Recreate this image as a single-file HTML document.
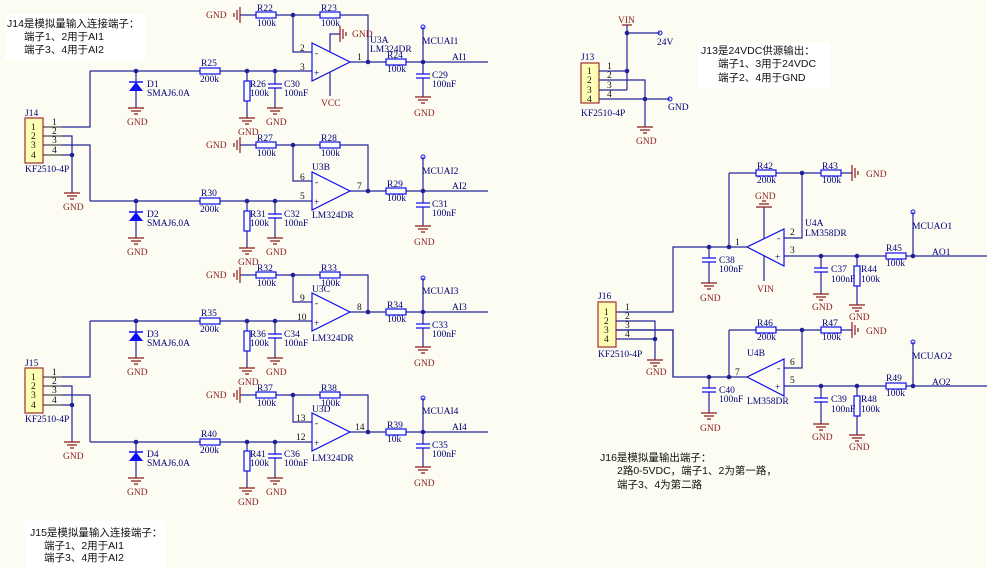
<!DOCTYPE html>
<html><head><meta charset="utf-8"><style>
html,body{margin:0;padding:0;background:#fcfcf2;}
svg{display:block;}
.w{stroke:#25259a;fill:none;stroke-width:1.2}
.p{stroke:#222;fill:none;stroke-width:1}
.g{stroke:#8b1c1c;fill:none;stroke-width:1.2}
.cmp{stroke:#1010ee;fill:none;stroke-width:1.2}
text{font-family:"Liberation Serif",serif;font-size:9.5px;}
.b{fill:#00007a}
.r{fill:#8b1c1c}
.k{fill:#111}
.cn{font-family:"Liberation Sans","Noto Sans CJK SC",sans-serif;font-size:10.5px;fill:#111}
</style></head><body>
<svg width="987" height="568" viewBox="0 0 987 568" xmlns="http://www.w3.org/2000/svg">
<defs>
<g id="rh"><rect x="0" y="-3" width="20" height="6" fill="#fdfdf7" stroke="#1010ee" stroke-width="1.2"/></g>
<g id="rv"><rect x="-3" y="0" width="6" height="20" fill="#fdfdf7" stroke="#1010ee" stroke-width="1.2"/></g>
<g id="gd" class="g"><path d="M-8 0H8M-5 3H5M-2 6H2"/></g>
<g id="gu" class="g"><path d="M-8 0H8M-5 -3H5M-2 -6H2"/></g>
<g id="gl" class="g"><path d="M0 -8V8M-3 -5V5M-6 -2V2"/></g>
<g id="gr" class="g"><path d="M0 -8V8M3 -5V5M6 -2V2"/></g>
<g id="cv" class="cmp"><path d="M-7 0H7M-7 4H7"/></g>
<g id="dio"><path d="M-7 0H7" stroke="#1010ee" stroke-width="1.5"/><polygon points="-7,9 7,9 0,0" fill="#1010ee"/></g>
<g id="dt"><circle r="2.3" fill="#20209a"/></g>
</defs>

<rect x="5" y="14" width="140" height="46" fill="#fff"/>
<text class="cn" x="7" y="27">J14是模拟量输入连接端子：</text>
<text class="cn" x="24" y="40">端子1、2用于AI1</text>
<text class="cn" x="24" y="53">端子3、4用于AI2</text>

<rect x="698" y="42" width="132" height="47" fill="#fff"/>
<text class="cn" x="701" y="54">J13是24VDC供源输出：</text>
<text class="cn" x="718" y="67">端子1、3用于24VDC</text>
<text class="cn" x="718" y="81">端子2、4用于GND</text>

<text class="cn" x="600" y="461">J16是模拟量输出端子：</text>
<text class="cn" x="617" y="474">2路0-5VDC，端子1、2为第一路，</text>
<text class="cn" x="617" y="488">端子3、4为第二路</text>

<rect x="25" y="521" width="140" height="47" fill="#fff"/>
<text class="cn" x="30" y="536">J15是模拟量输入连接端子：</text>
<text class="cn" x="44" y="549">端子1、2用于AI1</text>
<text class="cn" x="44" y="561">端子3、4用于AI2</text>

<g>
<path class="w" d="M240 15H256M276 15H320M340 15H368V62M293 15V52H312M350 62H386M405 62H488M423 27V74M423 78V97M90 71H200M220 71H312M136 71V82M136 91V108M247 71V81M247 101V118M275 71V84M275 88V108"/>
<use href="#gl" x="240" y="15"/>
<use href="#rh" x="256" y="15"/><use href="#rh" x="320" y="15"/><use href="#rh" x="386" y="62"/><use href="#rh" x="200" y="71"/><use href="#rv" x="247" y="81"/>
<use href="#cv" x="275" y="84"/><use href="#cv" x="423" y="74"/>
<use href="#gd" x="136" y="108"/><use href="#gd" x="247" y="118"/><use href="#gd" x="275" y="108"/><use href="#gd" x="423" y="97"/>
<use href="#dio" x="136" y="82"/>
<polygon points="312,43 312,81 350,62" fill="none" stroke="#1010ee" stroke-width="1.2"/>
<use href="#dt" x="293" y="15"/><use href="#dt" x="368" y="62"/><use href="#dt" x="423" y="62"/><use href="#dt" x="136" y="71"/><use href="#dt" x="247" y="71"/><use href="#dt" x="275" y="71"/>
<circle cx="423" cy="27" r="2" fill="none" stroke="#1010ee"/>
<path class="w" d="M330 52V34H340M330 72V96"/>
<use href="#gr" x="340" y="34"/>
<text class="r" x="352" y="37">GND</text>
<text class="r" x="321" y="106">VCC</text>
<text class="b" x="370" y="43">U3A</text><text class="b" x="370" y="52">LM324DR</text>
<text class="r" x="206" y="18">GND</text>
<text class="b" x="257" y="11">R22</text><text class="b" x="257" y="26">100k</text>
<text class="b" x="321" y="11">R23</text><text class="b" x="321" y="26">100k</text>
<text class="k" x="300" y="51">2</text><text class="k" x="300" y="70">3</text><text class="k" x="357" y="60">1</text>
<text class="b" x="315" y="56">-</text><text class="b" x="314" y="76">+</text>
<text class="b" x="387" y="58">R24</text><text class="b" x="387" y="72">100k</text>
<text class="b" x="422" y="44">MCUAI1</text><text class="b" x="452" y="60">AI1</text>
<text class="b" x="432" y="78">C29</text><text class="b" x="432" y="87">100nF</text><text class="r" x="414" y="116">GND</text>
<text class="b" x="201" y="66">R25</text><text class="b" x="200" y="82">200k</text>
<text class="b" x="147" y="87">D1</text><text class="b" x="147" y="96">SMAJ6.0A</text><text class="r" x="127" y="125">GND</text>
<text class="b" x="250" y="87">R26</text><text class="b" x="250" y="96">100k</text><text class="r" x="238" y="135">GND</text>
<text class="b" x="284" y="87">C30</text><text class="b" x="284" y="96">100nF</text><text class="r" x="266" y="125">GND</text>
</g>

<g transform="translate(0,130)">
<path class="w" d="M240 15H256M276 15H320M340 15H368V61M293 15V51H312M350 61H386M405 61H488M423 27V73M423 77V96M90 71H200M220 71H312M136 71V82M136 91V108M247 71V81M247 101V118M275 71V84M275 88V108"/>
<use href="#gl" x="240" y="15"/>
<use href="#rh" x="256" y="15"/><use href="#rh" x="320" y="15"/><use href="#rh" x="386" y="61"/><use href="#rh" x="200" y="71"/><use href="#rv" x="247" y="81"/>
<use href="#cv" x="275" y="84"/><use href="#cv" x="423" y="73"/>
<use href="#gd" x="136" y="108"/><use href="#gd" x="247" y="118"/><use href="#gd" x="275" y="108"/><use href="#gd" x="423" y="96"/>
<use href="#dio" x="136" y="82"/>
<polygon points="312,42 312,80 350,61" fill="none" stroke="#1010ee" stroke-width="1.2"/>
<use href="#dt" x="293" y="15"/><use href="#dt" x="368" y="61"/><use href="#dt" x="423" y="61"/><use href="#dt" x="136" y="71"/><use href="#dt" x="247" y="71"/><use href="#dt" x="275" y="71"/>
<circle cx="423" cy="27" r="2" fill="none" stroke="#1010ee"/>
<text class="b" x="312" y="40">U3B</text><text class="b" x="312" y="88">LM324DR</text>
<text class="r" x="206" y="18">GND</text>
<text class="b" x="257" y="11">R27</text><text class="b" x="257" y="26">100k</text>
<text class="b" x="321" y="11">R28</text><text class="b" x="321" y="26">100k</text>
<text class="k" x="300" y="50">6</text><text class="k" x="300" y="69">5</text><text class="k" x="357" y="59">7</text>
<text class="b" x="315" y="55">-</text><text class="b" x="314" y="75">+</text>
<text class="b" x="387" y="57">R29</text><text class="b" x="387" y="71">100k</text>
<text class="b" x="422" y="44">MCUAI2</text><text class="b" x="452" y="59">AI2</text>
<text class="b" x="432" y="77">C31</text><text class="b" x="432" y="86">100nF</text><text class="r" x="414" y="115">GND</text>
<text class="b" x="201" y="66">R30</text><text class="b" x="200" y="82">200k</text>
<text class="b" x="147" y="87">D2</text><text class="b" x="147" y="96">SMAJ6.0A</text><text class="r" x="127" y="125">GND</text>
<text class="b" x="250" y="87">R31</text><text class="b" x="250" y="96">100k</text><text class="r" x="238" y="135">GND</text>
<text class="b" x="284" y="87">C32</text><text class="b" x="284" y="96">100nF</text><text class="r" x="266" y="125">GND</text>
</g>

<g transform="translate(0,250)">
<path class="w" d="M240 25H256M276 25H320M340 25H368V62M293 25V52H312M350 62H386M405 62H488M423 28V74M423 78V97M90 71H200M220 71H312M136 71V82M136 91V108M247 71V81M247 101V118M275 71V84M275 88V108"/>
<use href="#gl" x="240" y="25"/>
<use href="#rh" x="256" y="25"/><use href="#rh" x="320" y="25"/><use href="#rh" x="386" y="62"/><use href="#rh" x="200" y="71"/><use href="#rv" x="247" y="81"/>
<use href="#cv" x="275" y="84"/><use href="#cv" x="423" y="74"/>
<use href="#gd" x="136" y="108"/><use href="#gd" x="247" y="118"/><use href="#gd" x="275" y="108"/><use href="#gd" x="423" y="97"/>
<use href="#dio" x="136" y="82"/>
<polygon points="312,43 312,81 350,62" fill="none" stroke="#1010ee" stroke-width="1.2"/>
<use href="#dt" x="293" y="25"/><use href="#dt" x="368" y="62"/><use href="#dt" x="423" y="62"/><use href="#dt" x="136" y="71"/><use href="#dt" x="247" y="71"/><use href="#dt" x="275" y="71"/>
<circle cx="423" cy="28" r="2" fill="none" stroke="#1010ee"/>
<text class="b" x="312" y="42">U3C</text><text class="b" x="312" y="91">LM324DR</text>
<text class="r" x="206" y="28">GND</text>
<text class="b" x="257" y="21">R32</text><text class="b" x="257" y="36">100k</text>
<text class="b" x="321" y="21">R33</text><text class="b" x="321" y="36">100k</text>
<text class="k" x="300" y="51">9</text><text class="k" x="297" y="70">10</text><text class="k" x="357" y="60">8</text>
<text class="b" x="315" y="56">-</text><text class="b" x="314" y="76">+</text>
<text class="b" x="387" y="58">R34</text><text class="b" x="387" y="72">100k</text>
<text class="b" x="422" y="44">MCUAI3</text><text class="b" x="452" y="60">AI3</text>
<text class="b" x="432" y="78">C33</text><text class="b" x="432" y="87">100nF</text><text class="r" x="414" y="116">GND</text>
<text class="b" x="201" y="66">R35</text><text class="b" x="200" y="82">200k</text>
<text class="b" x="147" y="87">D3</text><text class="b" x="147" y="96">SMAJ6.0A</text><text class="r" x="127" y="125">GND</text>
<text class="b" x="250" y="87">R36</text><text class="b" x="250" y="96">100k</text><text class="r" x="238" y="135">GND</text>
<text class="b" x="284" y="87">C34</text><text class="b" x="284" y="96">100nF</text><text class="r" x="266" y="125">GND</text>
</g>

<g transform="translate(0,370)">
<path class="w" d="M240 25H256M276 25H320M340 25H368V62M293 25V52H312M350 62H386M405 62H488M423 28V74M423 78V97M90 72H200M220 72H312M136 72V82M136 91V108M247 72V81M247 101V118M275 72V84M275 88V108"/>
<use href="#gl" x="240" y="25"/>
<use href="#rh" x="256" y="25"/><use href="#rh" x="320" y="25"/><use href="#rh" x="386" y="62"/><use href="#rh" x="200" y="72"/><use href="#rv" x="247" y="81"/>
<use href="#cv" x="275" y="84"/><use href="#cv" x="423" y="74"/>
<use href="#gd" x="136" y="108"/><use href="#gd" x="247" y="118"/><use href="#gd" x="275" y="108"/><use href="#gd" x="423" y="97"/>
<use href="#dio" x="136" y="82"/>
<polygon points="312,43 312,81 350,62" fill="none" stroke="#1010ee" stroke-width="1.2"/>
<use href="#dt" x="293" y="25"/><use href="#dt" x="368" y="62"/><use href="#dt" x="423" y="62"/><use href="#dt" x="136" y="72"/><use href="#dt" x="247" y="72"/><use href="#dt" x="275" y="72"/>
<circle cx="423" cy="28" r="2" fill="none" stroke="#1010ee"/>
<text class="b" x="312" y="42">U3D</text><text class="b" x="312" y="91">LM324DR</text>
<text class="r" x="206" y="28">GND</text>
<text class="b" x="257" y="21">R37</text><text class="b" x="257" y="36">100k</text>
<text class="b" x="321" y="21">R38</text><text class="b" x="321" y="36">100k</text>
<text class="k" x="296" y="51">13</text><text class="k" x="296" y="70">12</text><text class="k" x="355" y="60">14</text>
<text class="b" x="315" y="56">-</text><text class="b" x="314" y="76">+</text>
<text class="b" x="387" y="58">R39</text><text class="b" x="387" y="72">10k</text>
<text class="b" x="422" y="44">MCUAI4</text><text class="b" x="452" y="60">AI4</text>
<text class="b" x="432" y="78">C35</text><text class="b" x="432" y="87">100nF</text><text class="r" x="414" y="116">GND</text>
<text class="b" x="201" y="67">R40</text><text class="b" x="200" y="83">200k</text>
<text class="b" x="147" y="87">D4</text><text class="b" x="147" y="96">SMAJ6.0A</text><text class="r" x="127" y="125">GND</text>
<text class="b" x="250" y="87">R41</text><text class="b" x="250" y="96">100k</text><text class="r" x="238" y="135">GND</text>
<text class="b" x="284" y="87">C36</text><text class="b" x="284" y="96">100nF</text><text class="r" x="266" y="125">GND</text>
</g>

<rect x="25" y="118" width="18" height="45" fill="#ffffb4" stroke="#a03030" stroke-width="1.2"/>
<path class="p" d="M43 127H62M43 136H62M43 145H62M43 155H62"/>
<path class="w" d="M62 127H90V71M62 136H72V193M62 155H72M62 145H90V201"/>
<use href="#dt" x="72" y="155"/><use href="#gd" x="72" y="193"/>
<text class="b" x="25" y="116">J14</text><text class="b" x="25" y="172">KF2510-4P</text>
<text class="k" x="31" y="130">1</text><text class="k" x="31" y="139">2</text><text class="k" x="31" y="148">3</text><text class="k" x="31" y="158">4</text>
<text class="k" x="52" y="125">1</text><text class="k" x="52" y="134">2</text><text class="k" x="52" y="143">3</text><text class="k" x="52" y="153">4</text>
<text class="r" x="63" y="210">GND</text>

<rect x="25" y="368" width="18" height="45" fill="#ffffb4" stroke="#a03030" stroke-width="1.2"/>
<path class="p" d="M43 377H62M43 386H62M43 395H62M43 405H62"/>
<path class="w" d="M62 377H90V321M62 386H72V442M62 405H72M62 395H90V442"/>
<use href="#dt" x="72" y="405"/><use href="#gd" x="72" y="442"/>
<text class="b" x="25" y="366">J15</text><text class="b" x="25" y="422">KF2510-4P</text>
<text class="k" x="31" y="380">1</text><text class="k" x="31" y="389">2</text><text class="k" x="31" y="398">3</text><text class="k" x="31" y="408">4</text>
<text class="k" x="52" y="375">1</text><text class="k" x="52" y="384">2</text><text class="k" x="52" y="393">3</text><text class="k" x="52" y="403">4</text>
<text class="r" x="63" y="459">GND</text>

<rect x="581" y="63" width="18" height="40" fill="#ffffb4" stroke="#a03030" stroke-width="1.2"/>
<path class="g" d="M622 25H632"/>
<path class="w" d="M627 25V90M627 33H660M599 71H627M599 80H645V127M599 90H627M599 99H670"/>
<use href="#dt" x="627" y="33"/><use href="#dt" x="627" y="71"/><use href="#dt" x="645" y="99"/>
<circle cx="660" cy="33" r="2" fill="none" stroke="#1010ee"/><circle cx="670" cy="99" r="2" fill="none" stroke="#1010ee"/>
<use href="#gd" x="645" y="127"/>
<text class="r" x="618" y="23">VIN</text>
<text class="b" x="657" y="45">24V</text>
<text class="b" x="668" y="110">GND</text>
<text class="r" x="636" y="144">GND</text>
<text class="b" x="581" y="60">J13</text><text class="b" x="581" y="116">KF2510-4P</text>
<text class="k" x="587" y="74">1</text><text class="k" x="587" y="83">2</text><text class="k" x="587" y="93">3</text><text class="k" x="587" y="102">4</text>
<text class="k" x="607" y="69">1</text><text class="k" x="607" y="78">2</text><text class="k" x="607" y="88">3</text><text class="k" x="607" y="97">4</text>

<g>
<path class="w" d="M729 173H756M775 173H821M840 173H852M729 173V247M802 173V238H784M747 247H673V312H616M709 247V258M709 262V283M784 256H886M904 256H987M821 256V268M821 272V294M857 256V266M857 286V305M913 212V256M764 239V207M764 255V281"/>
<use href="#rh" x="756" y="173"/><use href="#rh" x="821" y="173"/><use href="#rh" x="886" y="256"/><use href="#rv" x="857" y="266"/>
<use href="#gr" x="852" y="173"/><use href="#gu" x="764" y="207"/>
<use href="#cv" x="709" y="258"/><use href="#cv" x="821" y="268"/>
<use href="#gd" x="709" y="283"/><use href="#gd" x="821" y="294"/><use href="#gd" x="857" y="305"/>
<polygon points="784,229 784,266 747,247" fill="none" stroke="#1010ee" stroke-width="1.2"/>
<use href="#dt" x="802" y="173"/><use href="#dt" x="729" y="247"/><use href="#dt" x="709" y="247"/><use href="#dt" x="821" y="256"/><use href="#dt" x="857" y="256"/><use href="#dt" x="913" y="256"/>
<circle cx="913" cy="212" r="2" fill="none" stroke="#1010ee"/>
<text class="b" x="757" y="169">R42</text><text class="b" x="757" y="183">200k</text>
<text class="b" x="822" y="169">R43</text><text class="b" x="822" y="183">100k</text>
<text class="r" x="866" y="177">GND</text>
<text class="r" x="755" y="199">GND</text><text class="r" x="757" y="292">VIN</text>
<text class="b" x="805" y="226">U4A</text><text class="b" x="805" y="236">LM358DR</text>
<text class="k" x="790" y="235">2</text><text class="k" x="790" y="253">3</text><text class="k" x="735" y="245">1</text>
<text class="b" x="777" y="241">-</text><text class="b" x="775" y="260">+</text>
<text class="b" x="719" y="263">C38</text><text class="b" x="719" y="272">100nF</text><text class="r" x="700" y="301">GND</text>
<text class="b" x="831" y="272">C37</text><text class="b" x="831" y="282">100nF</text><text class="r" x="812" y="310">GND</text>
<text class="b" x="861" y="272">R44</text><text class="b" x="861" y="282">100k</text><text class="r" x="849" y="320">GND</text>
<text class="b" x="886" y="251">R45</text><text class="b" x="886" y="266">100k</text>
<text class="b" x="912" y="229">MCUAO1</text><text class="b" x="932" y="255">AO1</text>
</g>

<g transform="translate(0,130)">
<path class="w" d="M729 200H756M775 200H821M840 200H852M729 200V247M802 200V238H784M747 247H673V200H616M709 247V258M709 262V283M784 256H886M904 256H987M821 256V268M821 272V294M857 256V266M857 286V305M913 212V256"/>
<use href="#rh" x="756" y="200"/><use href="#rh" x="821" y="200"/><use href="#rh" x="886" y="256"/><use href="#rv" x="857" y="266"/>
<use href="#gr" x="852" y="200"/>
<use href="#cv" x="709" y="258"/><use href="#cv" x="821" y="268"/>
<use href="#gd" x="709" y="283"/><use href="#gd" x="821" y="294"/><use href="#gd" x="857" y="305"/>
<polygon points="784,229 784,266 747,247" fill="none" stroke="#1010ee" stroke-width="1.2"/>
<use href="#dt" x="802" y="200"/><use href="#dt" x="729" y="247"/><use href="#dt" x="709" y="247"/><use href="#dt" x="821" y="256"/><use href="#dt" x="857" y="256"/><use href="#dt" x="913" y="256"/>
<circle cx="913" cy="212" r="2" fill="none" stroke="#1010ee"/>
<text class="b" x="757" y="196">R46</text><text class="b" x="757" y="210">200k</text>
<text class="b" x="822" y="196">R47</text><text class="b" x="822" y="210">100k</text>
<text class="r" x="866" y="204">GND</text>
<text class="b" x="747" y="226">U4B</text><text class="b" x="747" y="274">LM358DR</text>
<text class="k" x="790" y="235">6</text><text class="k" x="790" y="253">5</text><text class="k" x="735" y="245">7</text>
<text class="b" x="777" y="241">-</text><text class="b" x="775" y="260">+</text>
<text class="b" x="719" y="263">C40</text><text class="b" x="719" y="272">100nF</text><text class="r" x="700" y="301">GND</text>
<text class="b" x="831" y="272">C39</text><text class="b" x="831" y="282">100nF</text><text class="r" x="812" y="310">GND</text>
<text class="b" x="861" y="272">R48</text><text class="b" x="861" y="282">100k</text><text class="r" x="849" y="320">GND</text>
<text class="b" x="886" y="251">R49</text><text class="b" x="886" y="266">100k</text>
<text class="b" x="912" y="229">MCUAO2</text><text class="b" x="932" y="255">AO2</text>
</g>

<rect x="598" y="302" width="18" height="45" fill="#ffffb4" stroke="#a03030" stroke-width="1.2"/>
<path class="w" d="M616 321H655V360M616 339H655M616 330H673V377"/>
<use href="#dt" x="655" y="339"/><use href="#gd" x="655" y="360"/>
<text class="b" x="598" y="299">J16</text><text class="b" x="598" y="357">KF2510-4P</text>
<text class="k" x="604" y="315">1</text><text class="k" x="604" y="324">2</text><text class="k" x="604" y="333">3</text><text class="k" x="604" y="342">4</text>
<text class="k" x="625" y="310">1</text><text class="k" x="625" y="319">2</text><text class="k" x="625" y="328">3</text><text class="k" x="625" y="337">4</text>
<text class="r" x="646" y="375">GND</text>
</svg>
</body></html>
